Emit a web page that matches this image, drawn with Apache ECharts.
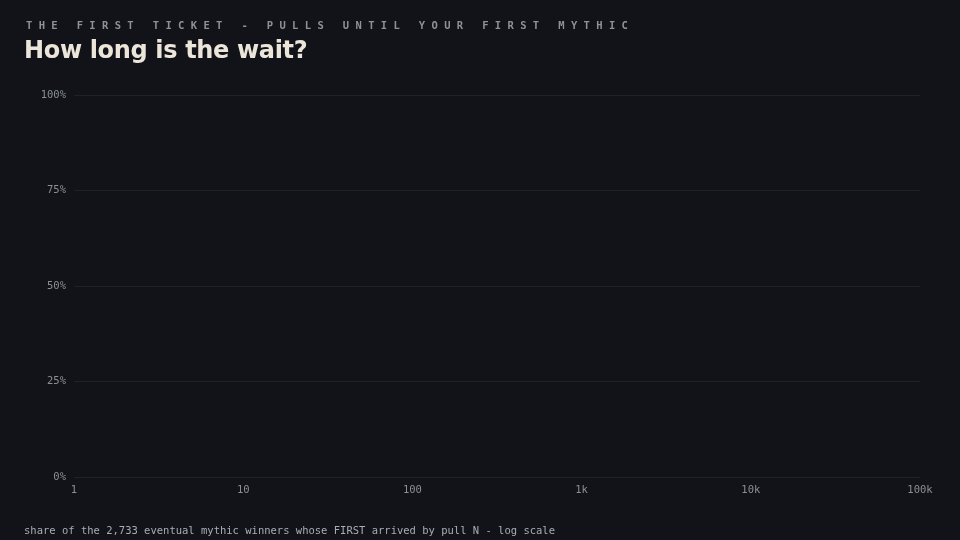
<!DOCTYPE html>
<html>
<head>
<meta charset="utf-8">
<script src="https://cdn.jsdelivr.net/npm/echarts@6/dist/echarts.min.js"></script>
<style>
  html, body { margin: 0; padding: 0; background: #111318; }
  #wrap { position: relative; width: 960px; height: 540px; background: #111318; overflow: hidden; }
  #chart { position: absolute; left: 0; top: 0; width: 960px; height: 540px; }
  .kicker { position: absolute; left: 26px; top: 19px; font-family: "DejaVu Sans Mono", monospace; font-size: 10.5px; font-weight: bold; letter-spacing: 6.35px; color: #8d9199; white-space: nowrap; }
  .title { position: absolute; left: 24px; top: 36px; font-family: "DejaVu Sans", sans-serif; font-size: 24px; font-weight: bold; color: #ece6da; white-space: nowrap; letter-spacing: -0.6px; }
  .caption { position: absolute; left: 24px; top: 524px; font-family: "DejaVu Sans Mono", monospace; font-size: 10.5px; color: #a9acb1; white-space: nowrap; }
</style>
</head>
<body>
<div id="wrap">
  <div id="chart"></div>
  <div class="kicker">THE FIRST TICKET - PULLS UNTIL YOUR FIRST MYTHIC</div>
  <div class="title" id="title">How long is the wait?</div>
  <div class="caption">share of the 2,733 eventual mythic winners whose FIRST arrived by pull N - log scale</div>
</div>
<script>
// Data: no curve is visible in the reference, so the series is empty.
const pulls = [];
const cumulativeShare = [];
const yTicks = [0, 0.25, 0.5, 0.75, 1];
const xTickLabels = { 1: '1', 10: '10', 100: '100', 1000: '1k', 10000: '10k', 100000: '100k' };

const points = pulls.map((p, i) => [p, cumulativeShare[i]]);

// fit title width to the reference (~282px)
const t = document.getElementById('title');
const w = t.getBoundingClientRect().width;
if (w > 0) {
  const target = 283;
  const sp = -0.6 + (target - w) / 20;
  t.style.letterSpacing = sp + 'px';
}

const chart = echarts.init(document.getElementById('chart'), null, { renderer: 'canvas' });
chart.setOption({
  backgroundColor: 'transparent',
  animation: false,
  grid: { left: 74, right: 40, top: 95, bottom: 63, containLabel: false },
  xAxis: {
    type: 'log',
    logBase: 10,
    min: 1,
    max: 100000,
    axisLine: { show: false },
    axisTick: { show: false },
    splitLine: { show: false },
    axisLabel: {
      color: '#8b8f96',
      fontFamily: 'DejaVu Sans Mono, monospace',
      fontSize: 10.5,
      margin: 8,
      formatter: v => xTickLabels[Math.round(v)] ?? ''
    }
  },
  yAxis: {
    type: 'value',
    min: yTicks[0],
    max: yTicks[yTicks.length - 1],
    interval: 0.25,
    axisLine: { show: false },
    axisTick: { show: false },
    splitLine: { show: true, lineStyle: { color: '#1e2127', width: 1 } },
    axisLabel: {
      color: '#8b8f96',
      fontFamily: 'DejaVu Sans Mono, monospace',
      fontSize: 10.5,
      margin: 8,
      padding: [2, 0, 0, 0],
      formatter: v => Math.round(v * 100) + '%'
    }
  },
  series: [{
    type: 'line',
    data: points,
    showSymbol: false,
    lineStyle: { color: '#e8b04b', width: 2 }
  }]
});
</script>
</body>
</html>
